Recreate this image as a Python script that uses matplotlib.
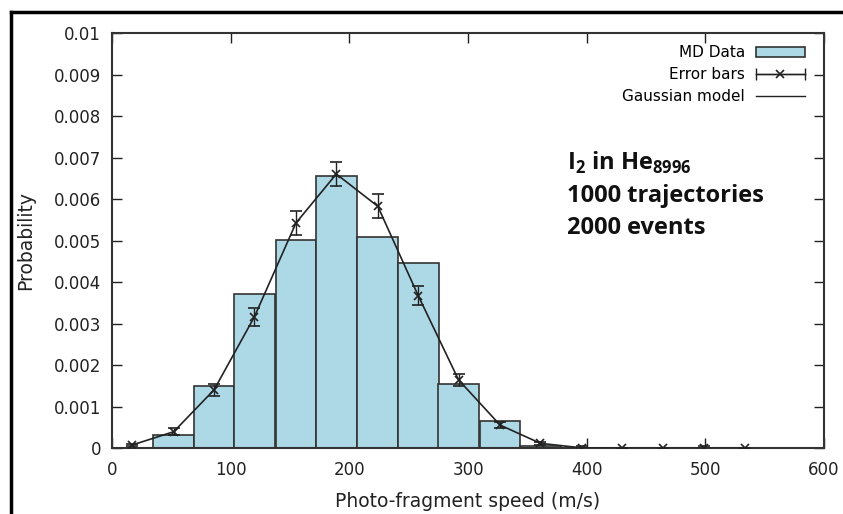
import matplotlib.pyplot as plt
from matplotlib.patches import Rectangle
from matplotlib.lines import Line2D
from matplotlib.legend_handler import HandlerLine2D, HandlerTuple

plt.rcParams['mathtext.fontset'] = 'custom'
plt.rcParams['mathtext.rm'] = 'Open Sans'
plt.rcParams['mathtext.bf'] = 'Open Sans:bold'

# Data
speed = [17, 52, 86, 120, 155, 189, 224, 258, 292, 327, 361, 396, 430, 464, 499, 533]
md_data = [0.0, 0.00032, 0.00151, 0.00372, 0.00501, 0.00657, 0.00510, 0.00446,
           0.00155, 0.00066, 0.00006, 0.00001, 0.0, 0.0, 0.0, 0.0]
model = [0.00008, 0.00040, 0.00141, 0.00317, 0.00543, 0.00661, 0.00583, 0.00368,
         0.00165, 0.00056, 0.00012, 0.00001, 0.0, 0.0, 0.0, 0.0]
errors = [0.00003, 0.00008, 0.00014, 0.00022, 0.00028, 0.00030, 0.00029, 0.00022,
          0.00015, 0.00008, 0.00003, 0.00004, 0.00001, 0.00001, 0.00005, 0.00001]
bin_width = 34.4

fig = plt.figure(figsize=(8.43, 5.14), dpi=100)
ax = fig.add_axes([0.1329, 0.1278, 0.8446, 0.8074])

ax.bar(speed, md_data, width=bin_width, color='#add8e6', edgecolor='#333333',
       linewidth=1.2, zorder=2)
ax.plot(speed, model, color='#222222', lw=1.2, zorder=3)
ax.errorbar(speed, model, yerr=errors, fmt='x', color='#222222', ms=6, mew=1.2,
            elinewidth=1, capsize=4, capthick=1, zorder=4)

ax.set_xlim(0, 600)
ax.set_ylim(0, 0.01)
ax.set_xticks(range(0, 601, 100))
ax.set_yticks([i / 1000 for i in range(11)])
ax.set_yticklabels(['0'] + ['%g' % (i / 1000) for i in range(1, 11)])
ax.tick_params(direction='in', length=7, width=1, top=True, right=True,
               labelsize=12, colors='#222222')
ax.tick_params(axis='x', pad=9)
ax.tick_params(axis='y', pad=8)
for s in ax.spines.values():
    s.set_linewidth(1.5)
    s.set_color('#333333')

ax.set_xlabel('Photo-fragment speed (m/s)', fontsize=13.5, color='#222222', va='top')
ax.set_ylabel('Probability', fontsize=13.5, color='#222222')
ax.xaxis.set_label_coords(0.5, -0.105)
ax.yaxis.set_label_coords(-0.108, 0.5)

# legend: text on the left, sample on the right (gnuplot style)
h_bar = Rectangle((0, 0), 1, 1, facecolor='#add8e6', edgecolor='#333333', lw=1.2)
h_err = Line2D([], [], color='#222222', lw=1, marker='x', ms=6, mew=1.2)
h_caps = Line2D([], [], color='#222222', lw=1, marker='|', ms=8, mew=1)
h_line = Line2D([], [], color='#222222', lw=1)
ax.legend([h_bar, (h_err, h_caps), h_line],
          ['MD Data', 'Error bars', 'Gaussian model'],
          handler_map={h_caps: HandlerLine2D(numpoints=2, marker_pad=0),
                       h_err: HandlerLine2D(numpoints=1),
                       tuple: HandlerTuple(ndivide=1)},
          loc='upper right', bbox_to_anchor=(0.988, 0.997), frameon=False,
          markerfirst=False, fontsize=11, handlelength=3.2, handletextpad=0.7,
          labelspacing=0.45, borderpad=0.2)

ax.text(0.639, 0.611, r'I$_\mathbf{2}$ in He$_\mathbf{8996}$' + '\n1000 trajectories\n2000 events',
        transform=ax.transAxes, fontsize=17, fontweight='bold', family='Open Sans',
        va='center', ha='left', linespacing=1.45, color='#111111')

# page frame visible round the figure
fig.add_artist(Line2D([11 / 843, 11 / 843], [0, 1 - 12 / 514], transform=fig.transFigure,
                      color='black', lw=2.5))
fig.add_artist(Line2D([11 / 843, 1], [1 - 12 / 514, 1 - 12 / 514], transform=fig.transFigure,
                      color='black', lw=2.5))

fig.savefig('out.png', dpi=100)
